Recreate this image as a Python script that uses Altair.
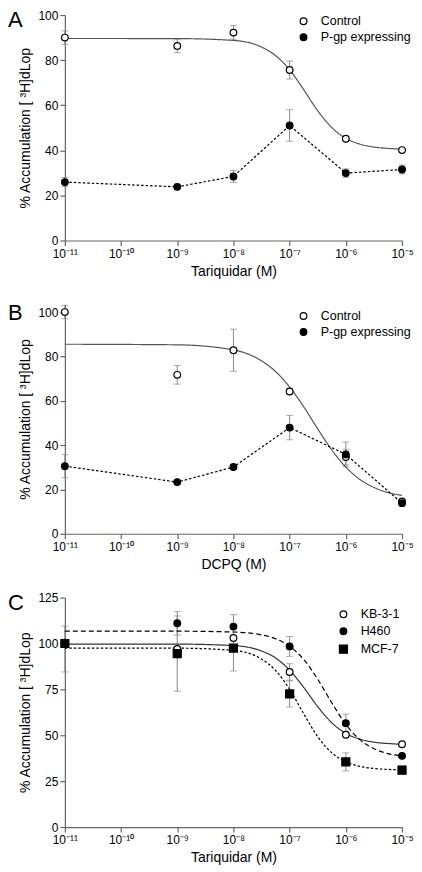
import altair as alt
import pandas as pd

# ---------------- data ----------------
conc = [1e-11, 1e-9, 1e-8, 1e-7, 1e-6, 1e-5]
x_ticks = [1e-11, 1e-10, 1e-9, 1e-8, 1e-7, 1e-6, 1e-5]
x_tick_labels = ["10⁻¹¹", "10⁻¹⁰", "10⁻⁹", "10⁻⁸", "10⁻⁷", "10⁻⁶", "10⁻⁵"]
curve_exp = [-11, -9, -8, -7.5, -7.25, -7, -6.75, -6.5, -6.25, -6, -5.75, -5.5, -5.25, -5]

# Panel A (Tariquidar)
a_series = ["Control", "P-gp expressing"]
a_control = [90.0, 86.3, 92.2, 75.6, 45.1, 40.1]
a_control_err = [3.0, 3.0, 3.2, 4.0, 0.0, 0.0]
a_pgp = [25.9, 23.8, 28.4, 51.0, 29.9, 31.5]
a_pgp_err = [2.0, 0.0, 2.6, 7.0, 1.9, 2.0]
a_control_fit = [89.6, 89.55, 88.75, 85.8, 82.0, 75.7, 66.9, 57.5, 50.1, 45.3, 42.75, 41.45, 40.84, 40.55]

# Panel B (DCPQ)
b_series = ["Control", "P-gp expressing"]
b_control = [100.0, 71.7, 82.8, 64.2, 34.6, 14.6]
b_control_err = [3.0, 4.2, 9.5, 1.2, 3.5, 0.0]
b_pgp = [30.5, 23.3, 30.1, 47.9, 35.8, 13.8]
b_pgp_err = [5.2, 0.0, 0.0, 5.5, 5.6, 0.0]
b_control_fit = [85.5, 85.23, 82.94, 78.0, 73.2, 66.2, 57.3, 47.3, 37.8, 30.1, 24.5, 20.9, 18.6, 17.3]

# Panel C (Tariquidar, cell lines)
c_series = ["KB-3-1", "H460", "MCF-7"]
c_kb = [100.0, 97.0, 103.0, 84.5, 50.3, 45.1]
c_kb_lo = [100.0, 97.0, 103.0, 80.0, 50.3, 45.1]
c_kb_hi = [100.0, 97.0, 103.0, 89.0, 50.3, 45.1]
c_h460 = [100.5, 111.0, 109.2, 98.4, 56.6, 38.8]
c_h460_lo = [100.5, 104.6, 102.7, 93.0, 51.7, 38.8]
c_h460_hi = [100.5, 117.4, 115.7, 103.8, 61.5, 38.8]
c_mcf = [100.0, 94.5, 97.5, 72.5, 35.5, 31.0]
c_mcf_lo = [84.5, 74.0, 85.0, 65.4, 30.6, 28.8]
c_mcf_hi = [109.5, 115.0, 110.4, 79.6, 40.4, 33.2]
c_kb_fit = [99.7, 99.66, 98.86, 95.9, 92.1, 85.5, 76.1, 65.6, 56.8, 51.05, 47.9, 46.25, 45.5, 45.1]
c_h460_fit = [106.7, 106.7, 106.25, 104.7, 102.6, 98.5, 91.3, 80.5, 67.7, 55.95, 47.6, 42.7, 40.0, 38.7]
c_mcf_fit = [97.5, 97.45, 96.26, 91.5, 85.3, 75.0, 61.7, 49.2, 40.45, 35.5, 33.06, 31.9, 31.4, 31.2]

panel_letters = ["A", "B", "C"]
x_titles = ["Tariquidar (M)", "DCPQ (M)", "Tariquidar (M)"]
y_title = "% Accumulation [ ³H]dLop"

# ---------------- helpers ----------------
label_expr = ""
for i, lab in enumerate(x_tick_labels[:-1]):
    label_expr += f"datum.value < {x_ticks[i] * 3} ? '{lab}' : "
label_expr += f"'{x_tick_labels[-1]}'"

FONT = "Liberation Sans"
SQUARE = "M-1.2,-1.2H1.2V1.2H-1.2Z"


def make_points(series, ys, los, his):
    rows = []
    for s, y, lo, hi in zip(series, ys, los, his):
        for xi, yi, l, h in zip(conc, y, lo, hi):
            rows.append({"series": s, "x": xi, "y": yi, "lo": l, "hi": h})
    return pd.DataFrame(rows)


def make_lines(series, ys, xs_list):
    rows = []
    for s, y, xs in zip(series, ys, xs_list):
        for i, (xi, yi) in enumerate(zip(xs, y)):
            rows.append({"series": s, "x": xi, "y": yi, "order": i})
    return pd.DataFrame(rows)


fit_x = [10 ** e for e in curve_exp]


def panel(letter, letter_y, pts, lines, series, fills, shapes, dashes, strokes,
          y_domain, y_ticks, height, x_title, leg_x, leg_y, row_pad, interp):
    xs = alt.Scale(type="log", domain=[1e-11, 1e-5], nice=False)
    ys = alt.Scale(domain=y_domain, nice=False, zero=True)
    x_axis = alt.Axis(values=x_ticks, labelExpr=label_expr, title=x_title,
                      grid=False, titlePadding=5, labelFlush=False, labelPadding=3)
    y_axis = alt.Axis(values=y_ticks, title=y_title, grid=False, titlePadding=5)
    base = alt.Chart(pts)
    err_pts = pts[pts["hi"] > pts["lo"]]
    ebase = alt.Chart(err_pts)
    rule = ebase.mark_rule(color="#888", strokeWidth=1).encode(
        x=alt.X("x:Q", scale=xs, axis=x_axis),
        y=alt.Y("lo:Q", scale=ys, axis=y_axis), y2="hi:Q")
    tick_lo = ebase.mark_tick(orient="horizontal", size=7, thickness=1, color="#888").encode(
        x=alt.X("x:Q", scale=xs), y=alt.Y("lo:Q", scale=ys))
    tick_hi = ebase.mark_tick(orient="horizontal", size=7, thickness=1, color="#888").encode(
        x=alt.X("x:Q", scale=xs), y=alt.Y("hi:Q", scale=ys))
    line_layers = []
    for s, d, c, it in zip(series, dashes, strokes, interp):
        if s not in set(lines["series"]):
            continue
        line_layers.append(
            alt.Chart(lines[lines["series"] == s]).mark_line(
                color=c, strokeWidth=1.2, strokeDash=d, interpolate=it).encode(
                x=alt.X("x:Q", scale=xs), y=alt.Y("y:Q", scale=ys), order="order:Q"))
    leg = alt.Legend(title=None, orient="none", legendX=leg_x, legendY=leg_y,
                     labelFontSize=12.5, symbolSize=45, symbolStrokeWidth=1.2,
                     labelOffset=11, rowPadding=row_pad, labelColor="black")
    points = base.mark_point(filled=True, strokeWidth=1.2, opacity=1, size=45).encode(
        x=alt.X("x:Q", scale=xs), y=alt.Y("y:Q", scale=ys),
        fill=alt.Fill("series:N", scale=alt.Scale(domain=series, range=fills), legend=leg),
        stroke=alt.Stroke("series:N", scale=alt.Scale(domain=series, range=["black"] * len(series)), legend=leg),
        shape=alt.Shape("series:N", scale=alt.Scale(domain=series, range=shapes), legend=leg),
    )
    txt = alt.Chart(pd.DataFrame({"t": [letter]})).mark_text(
        align="left", baseline="alphabetic", fontSize=22, font=FONT, color="black").encode(
        text="t:N", x=alt.value(-57), y=alt.value(letter_y))
    return alt.layer(rule, tick_lo, tick_hi, *line_layers, points, txt).properties(
        width=338, height=height)


# Panel A
pa = make_points(a_series, [a_control, a_pgp],
                 [[y - e for y, e in zip(a_control, a_control_err)], [y - e for y, e in zip(a_pgp, a_pgp_err)]],
                 [[y + e for y, e in zip(a_control, a_control_err)], [y + e for y, e in zip(a_pgp, a_pgp_err)]])
la = make_lines(a_series, [a_control_fit, a_pgp], [fit_x, conc])
chart_a = panel("A", 12, pa, la, a_series, ["white", "black"], ["circle", "circle"],
                [[1, 0], [2.5, 2]], ["#555", "black"], [0, 100], [0, 20, 40, 60, 80, 100],
                226, x_titles[0], 233, 0, 3, ["monotone", "linear"])

pb = make_points(b_series, [b_control, b_pgp],
                 [[y - e for y, e in zip(b_control, b_control_err)], [y - e for y, e in zip(b_pgp, b_pgp_err)]],
                 [[y + e for y, e in zip(b_control, b_control_err)], [y + e for y, e in zip(b_pgp, b_pgp_err)]])
lb = make_lines(b_series, [b_control_fit, b_pgp], [fit_x, conc])
chart_b = panel("B", 16, pb, lb, b_series, ["white", "black"], ["circle", "circle"],
                [[1, 0], [2.5, 2]], ["#555", "black"], [0, 103.5], [0, 20, 40, 60, 80, 100],
                230, x_titles[1], 233, 5.5, 3, ["monotone", "linear"])

pc = make_points(c_series, [c_kb, c_h460, c_mcf], [c_kb_lo, c_h460_lo, c_mcf_lo], [c_kb_hi, c_h460_hi, c_mcf_hi])
lc = make_lines(c_series, [c_kb_fit, c_h460_fit, c_mcf_fit], [fit_x, fit_x, fit_x])
chart_c = panel("C", 12, pc, lc, c_series, ["white", "black", "black"], ["circle", "circle", SQUARE],
                [[1, 0], [5, 3], [2.5, 2]], ["#333", "black", "black"], [0, 125], [0, 25, 50, 75, 100, 125],
                230, x_titles[2], 273, 10.5, 4, ["monotone", "monotone", "monotone"])

chart = alt.vconcat(chart_a, chart_b, chart_c, spacing=64, bounds="flush").resolve_scale(
    fill="independent", stroke="independent", shape="independent", x="independent", y="independent"
).resolve_legend(fill="independent", stroke="independent", shape="independent").configure(
    font=FONT, padding=0
).configure_view(stroke=None).configure_axis(
    domainColor="#666", tickColor="#666", labelColor="black", titleColor="black",
    labelFontSize=12, titleFontSize=14, titleFontWeight="normal", tickSize=5,
    labelFont=FONT, titleFont=FONT, domainWidth=1.2, tickWidth=1.2
).configure_legend(labelFont=FONT)

chart.save("out.html", embed_options={"renderer": "svg", "actions": False})
